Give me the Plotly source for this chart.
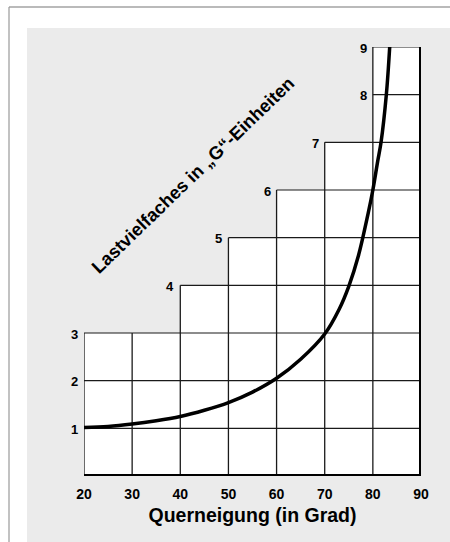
import plotly.graph_objects as go

# ---- data ----
col_left = [20, 30, 40, 50, 60, 70, 80]      # column left edges (deg)
col_top = [3, 3, 4, 5, 6, 7, 9]              # column heights (G)
x_max = 90
step_labels = ["1", "2", "3", "4", "5", "6", "7", "8", "9"]
step_label_x = [20, 20, 20, 40, 50, 60, 70, 80, 80]
step_label_y = [1, 2, 3, 4, 5, 6, 7, 8, 9]
curve_deg = [20, 25, 30, 35, 40, 45, 50, 55, 60, 65, 70, 73, 75, 77, 79, 80, 81, 81.7, 82.8, 83.5]
curve_g = [1.02, 1.04, 1.09, 1.16, 1.25, 1.38, 1.54, 1.76, 2.05, 2.45, 2.98, 3.5, 3.98, 4.62, 5.5, 6.0, 6.6, 7.0, 8.0, 9.0]
x_ticks = [20, 30, 40, 50, 60, 70, 80, 90]
x_title = "Querneigung (in Grad)"
y_title = "Lastvielfaches in „G“-Einheiten"

W, H = 450, 542
ML, MR, MT, MB = 84, 29, 47, 66
PW, PH = W - ML - MR, H - MT - MB

def px(p):
    return (p - ML) / PW

def py(p):
    return (H - MB - p) / PH

FONT = "Liberation Sans"
fig = go.Figure()

# white staircase fill
sx, sy = [col_left[0]], [0]
for i, l in enumerate(col_left):
    r = col_left[i + 1] if i + 1 < len(col_left) else x_max
    sx += [l, r]
    sy += [col_top[i], col_top[i]]
sx += [x_max, col_left[0]]
sy += [0, 0]
fig.add_trace(go.Scatter(x=sx, y=sy, fill="toself", fillcolor="white", mode="none",
                         hoverinfo="skip", showlegend=False))

# vertical lines
edges = col_left + [x_max]
lx, ly = [], []
for i, e in enumerate(edges):
    hl = col_top[i - 1] if i > 0 else 0
    hr = col_top[i] if i < len(col_top) else 0
    if e == x_max:
        continue
    lx += [e, e, None]
    ly += [0, max(hl, hr), None]
fig.add_trace(go.Scatter(x=lx, y=ly, mode="lines", line=dict(color="#1a1a1a", width=1.3),
                         hoverinfo="skip", showlegend=False))

# horizontal lines
hx, hy = [], []
for k in range(1, max(col_top) + 1):
    start = min(l for l, t in zip(col_left, col_top) if t >= k)
    hx += [start, x_max, None]
    hy += [k, k, None]
fig.add_trace(go.Scatter(x=hx, y=hy, mode="lines", line=dict(color="#1a1a1a", width=1.1),
                         hoverinfo="skip", showlegend=False))

# heavy bottom and right edges
fig.add_trace(go.Scatter(x=[col_left[0], x_max, x_max], y=[0, 0, col_top[-1]], mode="lines",
                         line=dict(color="black", width=4), hoverinfo="skip", showlegend=False))

# curve
fig.add_trace(go.Scatter(x=curve_deg, y=curve_g, mode="lines", line=dict(color="black", width=3.5, shape="spline"),
                         hoverinfo="skip", showlegend=False))

# step labels
for t, x, y in zip(step_labels, step_label_x, step_label_y):
    fig.add_annotation(x=x, y=y, text=t, showarrow=False, xanchor="right", yanchor="middle",
                       xshift=-4, yshift=-1,
                       font=dict(family=FONT, size=13, color="black", weight="bold"))

# rotated y title
fig.add_annotation(x=px(192), y=py(175), xref="paper", yref="paper", text=y_title, showarrow=False,
                   xanchor="center", yanchor="middle",
                   textangle=-44, font=dict(family=FONT, size=18.3, color="black", weight="bold"))

# background texture area and frame
fig.add_shape(type="rect", xref="paper", yref="paper", x0=px(27), x1=px(452), y0=py(544), y1=py(28),
              fillcolor="#ebebeb", line=dict(width=0), layer="below")
fig.add_shape(type="line", xref="paper", yref="paper", x0=px(9), x1=px(452), y0=py(7), y1=py(7),
              line=dict(color="#777", width=1.2))
fig.add_shape(type="line", xref="paper", yref="paper", x0=px(9), x1=px(9), y0=py(7), y1=py(544),
              line=dict(color="#999", width=1.2))

fig.update_layout(
    width=W, height=H, margin=dict(l=ML, r=MR, t=MT, b=MB, autoexpand=False),
    paper_bgcolor="white", plot_bgcolor="rgba(0,0,0,0)",
    xaxis=dict(range=[20, 90], tickvals=x_ticks, ticktext=[str(v) for v in x_ticks],
               showgrid=False, zeroline=False, showline=False, ticks="outside", ticklen=5,
               tickcolor="rgba(0,0,0,0)",
               tickfont=dict(family=FONT, size=14, color="black", weight="bold"),
               title=dict(text=x_title, standoff=7,
                          font=dict(family=FONT, size=19.5, color="black", weight="bold"))),
    yaxis=dict(range=[0, 9], showgrid=False, zeroline=False, showline=False, showticklabels=False),
    showlegend=False,
)

fig.write_html("out.html", config={"displayModeBar": False},
               post_script="document.body.style.margin='0';document.body.style.overflow='hidden';")
